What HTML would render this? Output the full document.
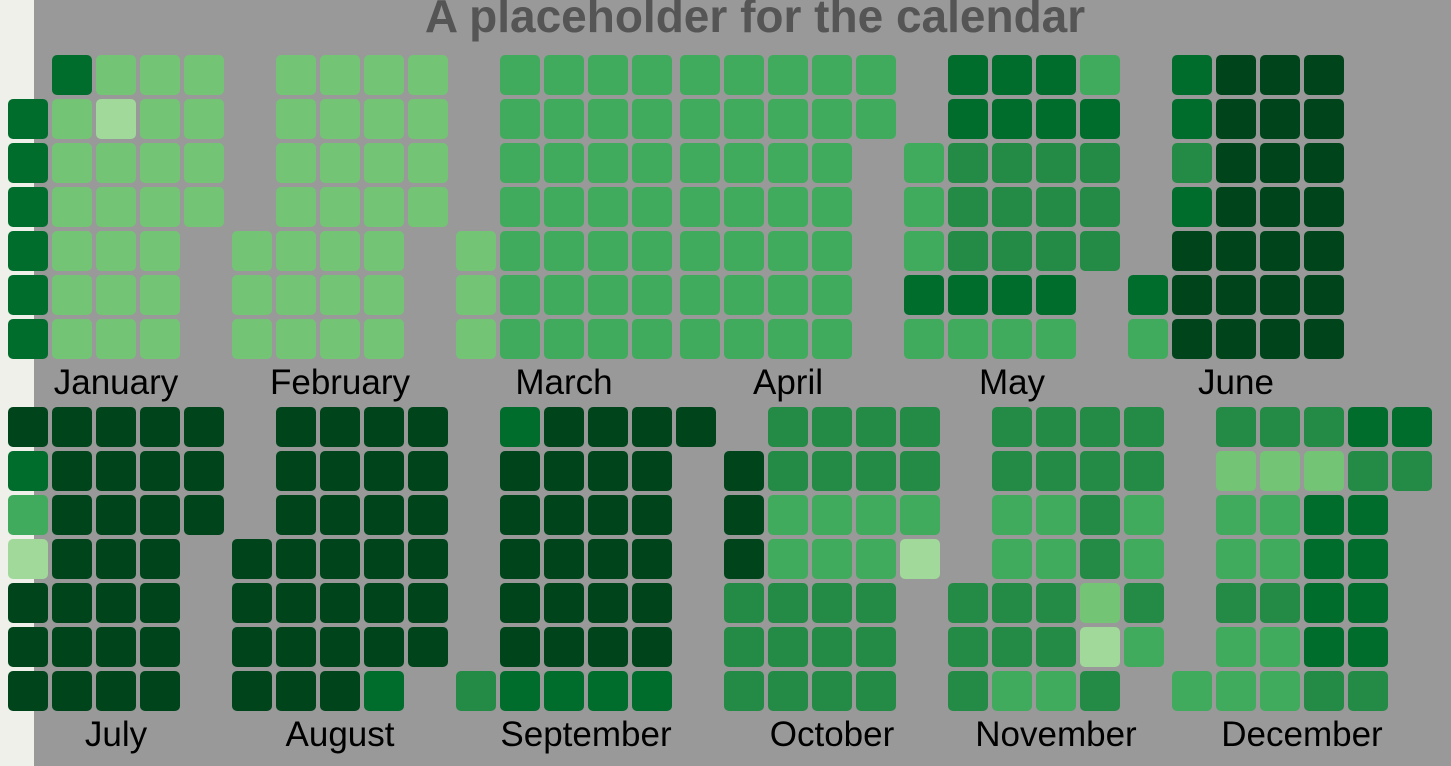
<!DOCTYPE html>
<html><head><meta charset="utf-8">
<style>
html,body{margin:0;padding:0;width:1451px;height:766px;overflow:hidden;background:#999999;}
#strip{position:absolute;left:0;top:0;width:34px;height:766px;background:#f0f0ea;}
svg{position:absolute;left:0;top:0;}
</style></head>
<body>
<div id="strip"></div>
<svg id="chart" width="1451" height="766">
<text x="755" y="32" text-anchor="middle" font-family="Liberation Sans, sans-serif" font-weight="bold" font-size="46" fill="#555">A placeholder for the calendar</text>
</svg>
<script>
const year = 2023;
const monthNames = ["January","February","March","April","May","June","July","August","September","October","November","December"];
const palette = ["#a1d99b","#74c476","#41ab5d","#238b45","#006d2c","#00441b"];
// levels per day, per month
const jan = [4,4,4,4,4,4, 4,1,1,1,1,1,1, 1,0,1,1,1,1,1, 1,1,1,1,1,1,1, 1,1,1,1];
const feb = Array(28).fill(1);
const mar = [1,1,1].concat(Array(28).fill(2));
const apr = Array(30).fill(2);
const may = [2,2,2,4,2, 4,4,3,3,3,4,2, 4,4,3,3,3,4,2, 4,4,3,3,3,4,2, 2,4,3,3,3];
const jun = [4,2, 4,4,3,4,5,5,5, 5,5,5,5,5,5,5, 5,5,5,5,5,5,5, 5,5,5,5,5,5,5];
const jul = [5,4,2,0,5,5,5, 5,5,5,5,5,5,5, 5,5,5,5,5,5,5, 5,5,5,5,5,5,5, 5,5,5];
const aug = [5,5,5,5, 5,5,5,5,5,5,5, 5,5,5,5,5,5,5, 5,5,5,5,5,5,4, 5,5,5,5,5,5];
const sep = [3, 4,5,5,5,5,5,4, 5,5,5,5,5,5,4, 5,5,5,5,5,5,4, 5,5,5,5,5,5,4, 5];
const oct = [5,5,5,3,3,3, 3,3,2,2,3,3,3, 3,3,2,2,3,3,3, 3,3,2,2,3,3,3, 3,3,2,0];
const nov = [3,3,3, 3,3,2,2,3,3,2, 3,3,2,2,3,3,2, 3,3,3,3,1,0,3, 3,3,2,2,3,2];
const dec = [2, 3,1,2,2,3,2,2, 3,1,2,2,3,2,2, 3,1,4,4,4,4,3, 4,3,4,4,4,4,3, 4,3];
const monthValues = [jan,feb,mar,apr,may,jun,jul,aug,sep,oct,nov,dec];

const svg = document.getElementById('chart');
const NS = "http://www.w3.org/2000/svg";
const cell = 40, pitch = 44, monthGap = 4, x0 = 8;
const rowTop = [55, 407], labelY = [394, 746];
let xCursor = [x0, x0];
monthValues.forEach((vals, m) => {
  const half = m < 6 ? 0 : 1;
  const first = new Date(year, m, 1).getDay();
  const startRow = (first + 1) % 7;
  const nCols = Math.floor((startRow + vals.length - 1) / 7) + 1;
  const mx = xCursor[half];
  const g = document.createElementNS(NS, 'g');
  
  
  vals.forEach((v, d) => {
    const idx = startRow + d;
    const col = Math.floor(idx / 7), row = idx % 7;
    const r = document.createElementNS(NS, 'rect');
    r.setAttribute('x', mx + col * pitch);
    r.setAttribute('y', rowTop[half] + row * pitch);
    r.setAttribute('width', cell);
    r.setAttribute('height', cell);
    r.setAttribute('rx', 5);
    r.setAttribute('fill', palette[v]);
    
    
    g.appendChild(r);
  });
  const w = nCols * pitch - 4;
  const t = document.createElementNS(NS, 'text');
  t.setAttribute('x', mx + w / 2);
  t.setAttribute('y', labelY[half]);
  t.setAttribute('text-anchor', 'middle');
  t.setAttribute('font-family', 'Liberation Sans, sans-serif');
  t.setAttribute('font-size', '35');
  t.setAttribute('fill', '#000');
  t.textContent = monthNames[m];
  
  
  g.appendChild(t);
  svg.appendChild(g);
  xCursor[half] = mx + nCols * pitch + monthGap;
});
</script>
</body></html>
